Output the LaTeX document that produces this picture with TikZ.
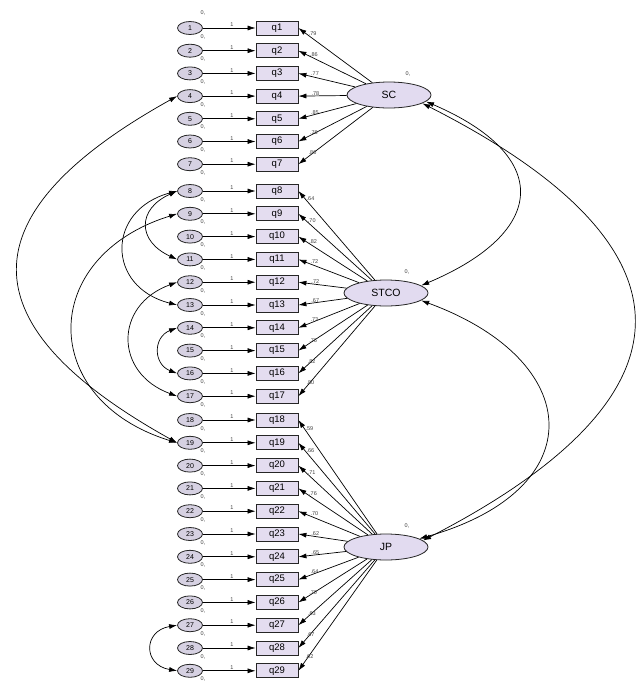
\documentclass[tikz,border=0pt]{standalone}
\usepackage{fontspec}
\setmainfont{Liberation Sans}
\usetikzlibrary{arrows.meta,calc,shapes.geometric}
\definecolor{boxfill}{HTML}{E4DDF0}
\definecolor{errfill}{HTML}{D6D1E2}
\definecolor{latfill}{HTML}{E2DBF0}
\begin{document}
\begin{tikzpicture}[x=1pt,y=-1pt,
  obs/.style={draw=black!85, fill=boxfill, minimum width=42pt, minimum height=14pt, inner sep=0pt, font=\fontsize{9.5}{9.5}\selectfont, line width=0.8pt},
  err/.style={ellipse, draw=black!85, fill=errfill, minimum width=25pt, minimum height=13pt, inner sep=0pt, font=\fontsize{7}{7}\selectfont, line width=0.8pt},
  lat/.style={ellipse, draw=black!85, fill=latfill, minimum width=84pt, minimum height=26pt, inner sep=0pt, font=\fontsize{10.5}{10.5}\selectfont, line width=0.8pt},
  arr/.style={-{Latex[length=8pt,width=5pt]}, line width=0.7pt},
  biarr/.style={{Latex[length=8pt,width=5pt]}-{Latex[length=8pt,width=5pt]}, line width=0.7pt},
  lbl/.style={font=\fontsize{5.5}{5.5}\selectfont, inner sep=0.5pt, text=black!75},
]
\useasboundingbox (0,0) rectangle (636,683);
\fill[white] (0,0) rectangle (636,683);

\node[lat] (SC) at (389,95) {SC};
\node[lat] (STCO) at (386,293) {STCO};
\node[lat] (JP) at (386,547) {JP};
\node[lbl] (SCv) at (408,74) {0,};
\node[lbl] (STCOv) at (407,272) {0,};
\node[lbl] (JPv) at (407,526) {0,};

\foreach \i/\y/\l/\f in {1/28/.79/SC, 2/50.7/.86/SC, 3/73.4/.77/SC, 4/96.1/.78/SC, 5/118.8/.85/SC, 6/141.5/.76/SC, 7/164.2/.80/SC,
  8/191/.64/STCO, 9/213.8/.70/STCO, 10/236.6/.82/STCO, 11/259.4/.72/STCO, 12/282.2/.72/STCO, 13/305/.67/STCO, 14/327.8/.73/STCO, 15/350.6/.76/STCO, 16/373.4/.82/STCO, 17/396.2/.80/STCO,
  18/420/.59/JP, 19/442.8/.66/JP, 20/465.6/.71/JP, 21/488.4/.76/JP, 22/511.2/.70/JP, 23/534/.62/JP, 24/556.8/.65/JP, 25/579.6/.64/JP, 26/602.4/.70/JP, 27/625.2/.63/JP, 28/648/.67/JP, 29/670.8/.62/JP} {
  \node[err] (e\i) at (190,\y) {\i};
  \node[obs] (q\i) at (277,\y) {q\i};
  \draw[arr] (e\i) -- node[lbl, above=0.5pt, pos=0.55] {1} (q\i);
  \node[lbl] (v\i) at ({203},{\y+8.5}) {0,};
  \draw[arr] (\f) -- (q\i.east);
  \path ($(q\i.east)!14pt!(\f)$) node[lbl, anchor=south, xshift=3pt] {\l};
}
\node[lbl] (v0a) at (203,13) {0,};

% error covariances
\draw[biarr] (e4.west) .. controls (-35,214) and (-35,325) .. (e19.west);
\draw[biarr] (e8.west) .. controls (137,209) and (137,241) .. (e11.west);
\draw[biarr] (e8.west) .. controls (106,210) and (106,287) .. (e13.west);
\draw[biarr] (e9.west) .. controls (38,257) and (38,400) .. (e19.west);
\draw[biarr] (e12.west) .. controls (114,305) and (114,373) .. (e17.west);
\draw[biarr] (e14.west) .. controls (153,337) and (153,364) .. (e16.west);
\draw[biarr] (e27.west) .. controls (143,631) and (143,665) .. (e29.west);

% factor covariances
\draw[biarr] (SC.-10) .. controls (553,156) and (548,232) .. (STCO.12);
\draw[biarr] (SC.-14) .. controls (706,247) and (702,397) .. (JP.10);
\draw[biarr] (STCO.-12) .. controls (586,361) and (593,490) .. (JP.14);
\end{tikzpicture}
\end{document}
